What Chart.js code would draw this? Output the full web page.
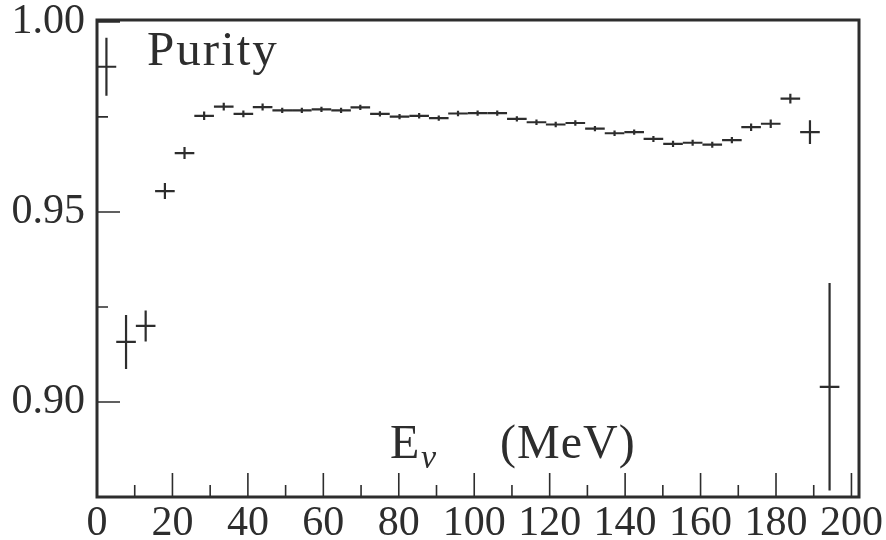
<!DOCTYPE html>
<html>
<head>
<meta charset="utf-8">
<title>Purity</title>
<script src="https://cdn.jsdelivr.net/npm/chart.js@4.4.1/dist/chart.umd.min.js"></script>
<style>
    html, body { margin: 0; padding: 0; background: #fff; }
    #purityChart { display: block; }
</style>
</head>
<body>
<canvas id="purityChart" width="886" height="540"></canvas>
<script>
// energy bins (MeV): centres and half width
const binCenters = [2.5, 7.7, 12.9, 18.0, 23.2, 28.4, 33.6, 38.8, 43.9, 49.1,
    54.3, 59.5, 64.7, 69.8, 75.0, 80.2, 85.4, 90.6, 95.7, 100.9,
    106.1, 111.3, 116.5, 121.6, 126.8, 132.0, 137.2, 142.4, 147.5, 152.7,
    157.9, 163.1, 168.3, 173.4, 178.6, 183.8, 189.0, 194.2];
const binHalfWidth = 2.6;

const purity = [0.9882, 0.9158, 0.9200, 0.9555, 0.9655, 0.9753, 0.9777, 0.9758, 0.9776, 0.9767,
    0.9767, 0.9770, 0.9767, 0.9775, 0.9758, 0.9751, 0.9753, 0.9747, 0.9759, 0.9760,
    0.9760, 0.9745, 0.9736, 0.9730, 0.9734, 0.9719, 0.9707, 0.9710, 0.9692, 0.9679,
    0.9682, 0.9677, 0.9689, 0.9723, 0.9732, 0.9798, 0.9710, 0.9040];
const purityErr = [0.0076, 0.0071, 0.0041, 0.0021, 0.0016, 0.0011, 0.0010, 0.0009, 0.0009, 0.0007,
    0.0007, 0.0007, 0.0007, 0.0007, 0.0007, 0.0007, 0.0007, 0.0007, 0.0007, 0.0007,
    0.0007, 0.0007, 0.0007, 0.0007, 0.0007, 0.0007, 0.0007, 0.0007, 0.0008, 0.0008,
    0.0008, 0.0008, 0.0008, 0.0010, 0.0011, 0.0013, 0.0031, 0.0273];

const xTicks = [0, 20, 40, 60, 80, 100, 120, 140, 160, 180, 200];
const xMinorTicks = [10, 30, 50, 70, 90, 110, 130, 150, 170, 190];
const yTicks = [0.90, 0.95, 1.00];
const yMinorTicks = [0.925, 0.975];

const INK = "#2d2d2d";
const SERIF = "'Liberation Serif', 'DejaVu Serif', serif";

// crosses: horizontal bar = bin width, vertical bar = error
const errorBars = {
    id: "errorBars",
    afterDatasetsDraw(chart) {
        const { ctx, chartArea, scales: { x, y } } = chart;
        ctx.save();
        ctx.beginPath();
        ctx.rect(chartArea.left, chartArea.top, chartArea.right - chartArea.left, chartArea.bottom - chartArea.top);
        ctx.clip();
        ctx.strokeStyle = INK;
        ctx.lineWidth = 2.2;
        binCenters.forEach((e, i) => {
            const px = x.getPixelForValue(e);
            const py = y.getPixelForValue(purity[i]);
            ctx.beginPath();
            ctx.moveTo(x.getPixelForValue(e - binHalfWidth), py);
            ctx.lineTo(x.getPixelForValue(e + binHalfWidth), py);
            ctx.moveTo(px, y.getPixelForValue(purity[i] + purityErr[i]));
            ctx.lineTo(px, y.getPixelForValue(purity[i] - purityErr[i]));
            ctx.stroke();
        });
        ctx.restore();
    }
};

// frame, inward ticks and the two captions
const frame = {
    id: "frame",
    afterDraw(chart) {
        const { ctx, chartArea: a, scales: { x, y } } = chart;
        ctx.save();
        ctx.strokeStyle = INK;
        ctx.lineWidth = 1.6;
        ctx.beginPath();
        xTicks.forEach(v => {
            const px = x.getPixelForValue(v);
            ctx.moveTo(px, a.bottom);
            ctx.lineTo(px, a.bottom - 24);
        });
        xMinorTicks.forEach(v => {
            const px = x.getPixelForValue(v);
            ctx.moveTo(px, a.bottom);
            ctx.lineTo(px, a.bottom - 12);
        });
        yTicks.forEach(v => {
            const py = y.getPixelForValue(v);
            ctx.moveTo(a.left, py);
            ctx.lineTo(a.left + 23, py);
        });
        yMinorTicks.forEach(v => {
            const py = y.getPixelForValue(v);
            ctx.moveTo(a.left, py);
            ctx.lineTo(a.left + 11, py);
        });
        ctx.stroke();

        ctx.lineWidth = 3;
        ctx.strokeRect(a.left, a.top, a.right - a.left, a.bottom - a.top);

        ctx.fillStyle = INK;
        ctx.textBaseline = "alphabetic";
        ctx.textAlign = "left";
        ctx.font = "49px " + SERIF;
        ctx.letterSpacing = "2px";
        ctx.fillText("Purity", 147, 65);

        ctx.font = "48px " + SERIF;
        ctx.letterSpacing = "1px";
        ctx.fillText("E", 390, 458);
        ctx.fillText("(MeV)", 500, 458);
        ctx.font = "italic 34px " + SERIF;
        ctx.fillText("ν", 421, 468);
        ctx.restore();
    }
};

const ctx = document.getElementById("purityChart").getContext("2d");
new Chart(ctx, {
    type: "scatter",
    data: {
        datasets: [{
            label: "Purity",
            data: binCenters.map((e, i) => ({ x: e, y: purity[i] })),
            pointRadius: 0,
            showLine: false
        }]
    },
    options: {
        responsive: false,
        animation: false,
        devicePixelRatio: 1,
        layout: { autoPadding: false, padding: { top: 20, right: 27, left: 0, bottom: 0 } },
        plugins: { legend: { display: false }, tooltip: { enabled: false } },
        scales: {
            x: {
                type: "linear",
                min: 0,
                max: 202,
                afterFit: s => {
                    s.height = 43;
                    s.paddingLeft = 0;
                    s.paddingRight = 0;
                },
                afterBuildTicks: s => { s.ticks = xTicks.map(v => ({ value: v })); },
                grid: { display: false, drawTicks: false },
                border: { display: false },
                ticks: {
                    color: INK,
                    padding: 2,
                    maxRotation: 0,
                    autoSkip: false,
                    font: { family: SERIF, size: 42 },
                    callback: v => String(v)
                }
            },
            y: {
                type: "linear",
                min: 0.875,
                max: 1.0005,
                afterFit: s => {
                    s.width = 97;
                    s.paddingTop = 0;
                    s.paddingBottom = 0;
                },
                afterBuildTicks: s => { s.ticks = yTicks.map(v => ({ value: v })); },
                grid: { display: false, drawTicks: false },
                border: { display: false },
                ticks: {
                    color: INK,
                    padding: 12,
                    autoSkip: false,
                    font: { family: SERIF, size: 42 },
                    callback: v => v.toFixed(2)
                }
            }
        }
    },
    plugins: [errorBars, frame]
});
</script>
</body>
</html>
